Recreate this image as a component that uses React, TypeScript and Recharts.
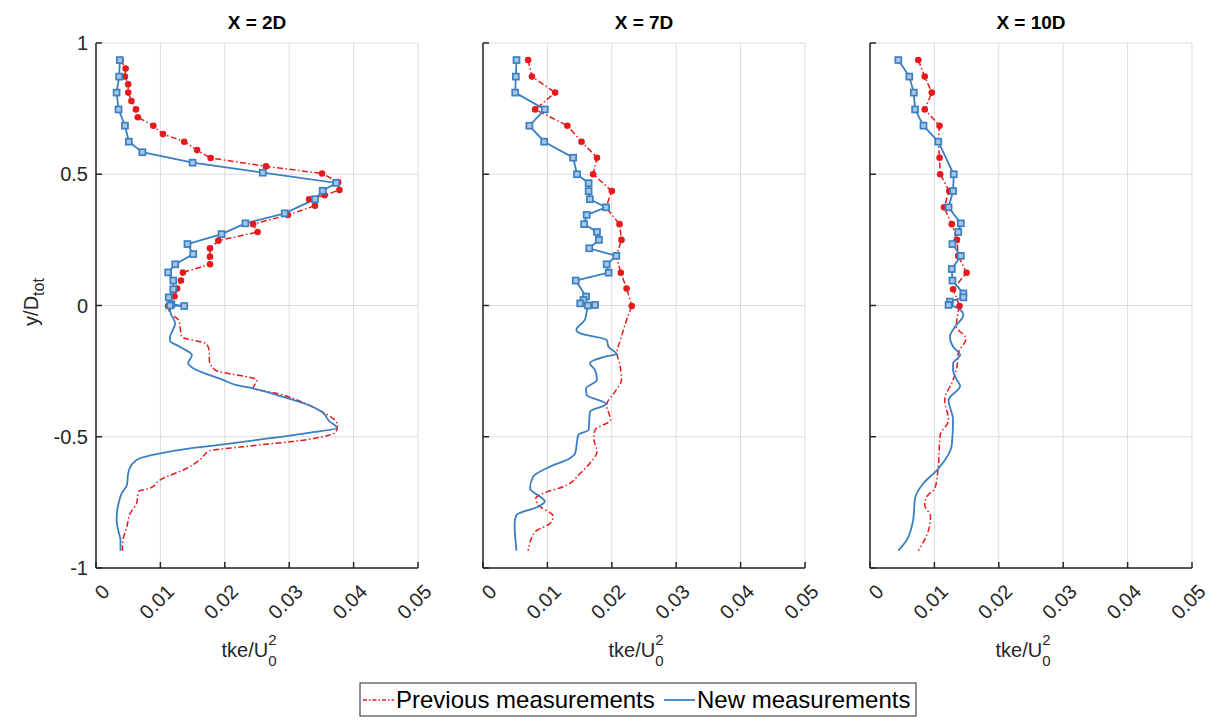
import React from 'react';
import { ScatterChart, Scatter, XAxis, YAxis, CartesianGrid } from 'recharts';

const RED = '#e8191c';
const BLUE = '#3a7fc1';
const AXIS = '#262626';
const GRID = '#dcdcdc';
const FONT = '"Liberation Sans", Arial, Helvetica, sans-serif';

const xTicks = [0, 0.01, 0.02, 0.03, 0.04, 0.05];
const yTicks = [-1, -0.5, 0, 0.5, 1];
const panelTitles = ['X = 2D', 'X = 7D', 'X = 10D'];
const legendLabels = ['Previous measurements', 'New measurements'];

// ---------- X = 2D ----------
const prev2DPts: [number, number][] = [
  [0.0038, 0.935], [0.0046, 0.903], [0.0045, 0.872], [0.005, 0.843], [0.005, 0.811], [0.0055, 0.779],
  [0.0062, 0.747], [0.0065, 0.717], [0.0089, 0.685], [0.0104, 0.653], [0.0137, 0.624], [0.0157, 0.592],
  [0.0178, 0.562], [0.0264, 0.53], [0.0351, 0.503], [0.0376, 0.47], [0.0378, 0.44], [0.0355, 0.42],
  [0.0331, 0.405], [0.034, 0.38], [0.0298, 0.345], [0.0244, 0.31], [0.0251, 0.28], [0.019, 0.247],
  [0.0177, 0.218], [0.0177, 0.186], [0.0177, 0.157], [0.0135, 0.126], [0.0132, 0.095], [0.0126, 0.065],
  [0.0122, 0.035], [0.0112, -0.002],
];
const prev2DLine: [number, number][] = [
  [0.0112, -0.002], [0.0115, -0.03], [0.0128, -0.055], [0.0131, -0.09], [0.0133, -0.119], [0.0172, -0.147],
  [0.0176, -0.18], [0.0176, -0.208], [0.0185, -0.246], [0.025, -0.284], [0.0244, -0.315], [0.0281, -0.335],
  [0.033, -0.379], [0.0355, -0.41], [0.0368, -0.43], [0.0375, -0.455], [0.0373, -0.48], [0.033, -0.51],
  [0.0229, -0.538], [0.0177, -0.553], [0.0161, -0.589], [0.0141, -0.62], [0.0099, -0.665], [0.0084, -0.696],
  [0.0066, -0.709], [0.0063, -0.754], [0.0053, -0.792], [0.0048, -0.843], [0.0042, -0.893], [0.0041, -0.934],
];
const new2DPts: [number, number][] = [
  [0.0037, 0.935], [0.0036, 0.872], [0.0032, 0.811], [0.0035, 0.747], [0.0045, 0.685], [0.0051, 0.624],
  [0.0072, 0.584], [0.015, 0.544], [0.0259, 0.506], [0.0373, 0.467], [0.0352, 0.437], [0.034, 0.405],
  [0.0293, 0.351], [0.0232, 0.313], [0.0195, 0.272], [0.0142, 0.234], [0.0151, 0.196], [0.0123, 0.157],
  [0.0112, 0.126], [0.012, 0.095], [0.012, 0.062], [0.0113, 0.031], [0.0117, 0.005], [0.0137, -0.002],
  [0.0115, 0.0],
];
const new2DLine: [number, number][] = [
  [0.0115, 0.0], [0.0115, -0.017], [0.0117, -0.036], [0.0123, -0.068], [0.0118, -0.1], [0.0115, -0.119],
  [0.0115, -0.134], [0.013, -0.157], [0.0149, -0.189], [0.0143, -0.22], [0.0151, -0.239], [0.0198, -0.284],
  [0.0218, -0.303], [0.0244, -0.316], [0.0281, -0.341], [0.033, -0.379], [0.0351, -0.406], [0.0362, -0.44],
  [0.0374, -0.467], [0.033, -0.485], [0.025, -0.512], [0.0198, -0.529], [0.0146, -0.544], [0.0094, -0.566],
  [0.0068, -0.582], [0.0055, -0.608], [0.005, -0.639], [0.0048, -0.684], [0.004, -0.715], [0.0035, -0.754],
  [0.0032, -0.817], [0.0035, -0.862], [0.0038, -0.893], [0.0038, -0.934],
];

// ---------- X = 7D ----------
const prev7DPts: [number, number][] = [
  [0.007, 0.935], [0.0076, 0.872], [0.0112, 0.811], [0.0081, 0.747], [0.0131, 0.685], [0.0153, 0.624],
  [0.0177, 0.563], [0.0171, 0.5], [0.02, 0.436], [0.0191, 0.374], [0.0212, 0.31], [0.0215, 0.25],
  [0.0207, 0.189], [0.0214, 0.125], [0.0223, 0.065], [0.0231, -0.002],
];
const prev7DLine: [number, number][] = [
  [0.0231, -0.002], [0.0223, -0.055], [0.0215, -0.119], [0.0208, -0.182], [0.0212, -0.22], [0.0215, -0.284],
  [0.0205, -0.328], [0.0192, -0.379], [0.0198, -0.436], [0.0174, -0.474], [0.0172, -0.506], [0.0177, -0.557],
  [0.0166, -0.601], [0.0151, -0.639], [0.0125, -0.69], [0.0094, -0.715], [0.0082, -0.734], [0.0086, -0.76],
  [0.0109, -0.804], [0.0104, -0.83], [0.0081, -0.862], [0.007, -0.934],
];
const new7DPts: [number, number][] = [
  [0.0052, 0.935], [0.0051, 0.872], [0.005, 0.811], [0.0096, 0.747], [0.0072, 0.685], [0.0095, 0.624],
  [0.014, 0.563], [0.0146, 0.5], [0.0164, 0.466], [0.0164, 0.436], [0.0166, 0.405], [0.0191, 0.374],
  [0.0161, 0.345], [0.0157, 0.31], [0.0177, 0.28], [0.018, 0.25], [0.0165, 0.218], [0.0207, 0.189],
  [0.0192, 0.157], [0.0195, 0.125], [0.0144, 0.095], [0.016, 0.034], [0.0156, 0.021], [0.0151, 0.008],
  [0.0174, 0.002], [0.0163, 0.0],
];
const new7DLine: [number, number][] = [
  [0.0163, 0.0], [0.0161, -0.024], [0.0158, -0.055], [0.0145, -0.093], [0.0151, -0.106], [0.0192, -0.131],
  [0.0195, -0.157], [0.0207, -0.185], [0.019, -0.195], [0.0166, -0.22], [0.0174, -0.246], [0.0177, -0.284],
  [0.016, -0.316], [0.0161, -0.341], [0.0191, -0.375], [0.0166, -0.405], [0.0164, -0.474], [0.0148, -0.493],
  [0.0143, -0.563], [0.0135, -0.582], [0.0104, -0.614], [0.0078, -0.652], [0.0073, -0.696], [0.0096, -0.747],
  [0.0086, -0.766], [0.0052, -0.798], [0.0049, -0.83], [0.005, -0.881], [0.0052, -0.934],
];

// ---------- X = 10D ----------
const prev10DPts: [number, number][] = [
  [0.0075, 0.935], [0.0085, 0.872], [0.0096, 0.811], [0.0085, 0.747], [0.0108, 0.685], [0.0106, 0.624],
  [0.0108, 0.563], [0.0109, 0.5], [0.0123, 0.436], [0.0115, 0.374], [0.0127, 0.31], [0.0135, 0.25],
  [0.0137, 0.189], [0.015, 0.125], [0.0129, 0.062], [0.0139, -0.002],
];
const prev10DLine: [number, number][] = [
  [0.0139, -0.002], [0.0136, -0.036], [0.0134, -0.081], [0.0149, -0.125], [0.0137, -0.182], [0.0135, -0.233],
  [0.0129, -0.284], [0.0116, -0.36], [0.0122, -0.436], [0.0109, -0.493], [0.0106, -0.614], [0.0101, -0.696],
  [0.0088, -0.728], [0.0085, -0.76], [0.0094, -0.804], [0.0091, -0.855], [0.0075, -0.934],
];
const new10DPts: [number, number][] = [
  [0.0044, 0.935], [0.0061, 0.872], [0.0068, 0.811], [0.007, 0.747], [0.0083, 0.685], [0.0106, 0.624],
  [0.013, 0.5], [0.0129, 0.436], [0.0122, 0.374], [0.0141, 0.313], [0.0137, 0.28], [0.0128, 0.234],
  [0.0141, 0.189], [0.0127, 0.139], [0.0128, 0.095], [0.0145, 0.046], [0.0145, 0.031], [0.0124, 0.015],
  [0.0122, 0.002],
];
const new10DLine: [number, number][] = [
  [0.0122, 0.002], [0.0137, -0.011], [0.0145, -0.036], [0.0132, -0.081], [0.0124, -0.119], [0.0129, -0.157],
  [0.014, -0.189], [0.0129, -0.22], [0.0129, -0.246], [0.0135, -0.284], [0.014, -0.307], [0.0122, -0.36],
  [0.0129, -0.436], [0.0127, -0.531], [0.0104, -0.627], [0.0083, -0.677], [0.007, -0.734], [0.0067, -0.817],
  [0.0057, -0.893], [0.0044, -0.934],
];

type Pair = [number, number];
const toObj = (arr: Pair[]) => arr.map(([t, y]) => ({ t, y }));

const PLOT_W = 322;
const PLOT_TOP = 43;
const PLOT_BOTTOM = 568;
const YAX_W = 60;
const panelLefts = [96, 483, 870];
const FRAME_W = 1.5;

const fmt = (v: number) => String(v);

const XTick = (props: any) => {
  const { x, y, payload } = props;
  const ax = x + 10;
  const ay = y + 20;
  return (
    <g>
      <line x1={x} x2={x} y1={y} y2={y - 6} stroke={AXIS} strokeWidth={FRAME_W} />
      <text
        x={ax}
        y={ay}
        textAnchor="end"
        dominantBaseline="central"
        transform={`rotate(-45, ${ax}, ${ay})`}
        fontSize={20}
        fontFamily={FONT}
        fill={AXIS}
      >
        {fmt(payload.value)}
      </text>
    </g>
  );
};

const TopTick = (props: any) => {
  const { x, y } = props;
  return <line x1={x} x2={x} y1={y} y2={y + 6} stroke={AXIS} strokeWidth={FRAME_W} />;
};

const makeYTick = (showLabel: boolean) => (props: any) => {
  const { x, y, payload } = props;
  return (
    <g>
      <line x1={x} x2={x + 6} y1={y} y2={y} stroke={AXIS} strokeWidth={FRAME_W} />
      {showLabel && (
        <text x={x - 8} y={y} textAnchor="end" dominantBaseline="central" fontSize={20} fontFamily={FONT} fill={AXIS}>
          {fmt(payload.value)}
        </text>
      )}
    </g>
  );
};

const RightTick = (props: any) => {
  const { x, y } = props;
  return <line x1={x} x2={x - 6} y1={y} y2={y} stroke={AXIS} strokeWidth={FRAME_W} />;
};

const Dot = (props: any) => {
  const { cx, cy } = props;
  return <circle cx={cx} cy={cy} r={3.3} fill={RED} />;
};

const Square = (props: any) => {
  const { cx, cy } = props;
  return <rect x={cx - 3} y={cy - 3} width={6} height={6} fill="#a7c6e6" stroke={BLUE} strokeWidth={1.7} />;
};

const Empty = () => <g />;

type PanelProps = {
  left: number;
  prevPts: Pair[];
  prevLine: Pair[];
  newPts: Pair[];
  newLine: Pair[];
  showYLabels: boolean;
};

const RED_DASH = '6 2.5 1.5 2.5';

function Panel({ left, prevPts, prevLine, newPts, newLine, showYLabels }: PanelProps) {
  return (
    <div style={{ position: 'absolute', left: left - YAX_W, top: 0 }}>
      <ScatterChart
        width={PLOT_W + YAX_W + 20}
        height={720}
        margin={{ top: PLOT_TOP, right: 20, bottom: 0, left: 0 }}
      >
        <CartesianGrid stroke={GRID} strokeWidth={1} />
        <XAxis
          type="number"
          dataKey="t"
          domain={[0, 0.05]}
          ticks={xTicks}
          interval={0}
          allowDataOverflow
          height={720 - PLOT_BOTTOM}
          tickSize={0}
          tickMargin={0}
          tickLine={false}
          axisLine={{ stroke: AXIS, strokeWidth: FRAME_W }}
          tick={XTick}
        />
        <XAxis
          xAxisId="top"
          orientation="top"
          type="number"
          domain={[0, 0.05]}
          ticks={xTicks}
          interval={0}
          height={0}
          tickSize={0}
          tickMargin={0}
          tickLine={false}
          axisLine={{ stroke: AXIS, strokeWidth: FRAME_W }}
          tick={TopTick}
        />
        <YAxis
          type="number"
          dataKey="y"
          domain={[-1, 1]}
          ticks={yTicks}
          interval={0}
          allowDataOverflow
          width={YAX_W}
          tickSize={0}
          tickMargin={0}
          tickLine={false}
          axisLine={{ stroke: AXIS, strokeWidth: FRAME_W }}
          tick={makeYTick(showYLabels)}
        />
        <YAxis
          yAxisId="right"
          orientation="right"
          type="number"
          domain={[-1, 1]}
          ticks={yTicks}
          interval={0}
          width={0}
          tickSize={0}
          tickMargin={0}
          tickLine={false}
          axisLine={{ stroke: AXIS, strokeWidth: FRAME_W }}
          tick={RightTick}
        />
        <Scatter
          data={toObj(prevPts)}
          line={{ stroke: RED, strokeWidth: 1.5, strokeDasharray: RED_DASH }}
          lineType="joint"
          shape={Empty}
          isAnimationActive={false}
        />
        <Scatter
          data={toObj(prevLine)}
          line={{ stroke: RED, strokeWidth: 1.5, strokeDasharray: RED_DASH }}
          lineType="joint"
          lineJointType="monotoneY"
          shape={Empty}
          isAnimationActive={false}
        />
        <Scatter
          data={toObj(newPts)}
          line={{ stroke: BLUE, strokeWidth: 1.8 }}
          lineType="joint"
          shape={Empty}
          isAnimationActive={false}
        />
        <Scatter
          data={toObj(newLine)}
          line={{ stroke: BLUE, strokeWidth: 1.8 }}
          lineType="joint"
          lineJointType="monotoneY"
          shape={Empty}
          isAnimationActive={false}
        />
        <Scatter data={toObj(prevPts)} shape={Dot} isAnimationActive={false} />
        <Scatter data={toObj(newPts)} shape={Square} isAnimationActive={false} />
      </ScatterChart>
    </div>
  );
}

export default function App() {
  const panels = [
    { prevPts: prev2DPts, prevLine: prev2DLine, newPts: new2DPts, newLine: new2DLine },
    { prevPts: prev7DPts, prevLine: prev7DLine, newPts: new7DPts, newLine: new7DLine },
    { prevPts: prev10DPts, prevLine: prev10DLine, newPts: new10DPts, newLine: new10DLine },
  ];
  return (
    <div style={{ position: 'absolute', left: 0, top: 0, width: 1214, height: 720, background: '#fff', fontFamily: FONT }}>
      {panels.map((p, i) => (
        <Panel key={i} left={panelLefts[i]} showYLabels={i === 0} {...p} />
      ))}
      <svg width={1214} height={720} style={{ position: 'absolute', left: 0, top: 0, pointerEvents: 'none' }}>
        {panelTitles.map((t, i) => (
          <text
            key={t}
            x={panelLefts[i] + PLOT_W / 2}
            y={29}
            textAnchor="middle"
            fontSize={19}
            fontWeight="bold"
            fontFamily={FONT}
            fill="#000"
          >
            {t}
          </text>
        ))}
        {panelLefts.map((l, i) => (
          <text key={i} x={l + PLOT_W / 2 - 8} y={657} textAnchor="middle" fontSize={20} fontFamily={FONT} fill={AXIS}>
            tke/U
            <tspan fontSize={15} dy={-12}>2</tspan>
            <tspan fontSize={15} dx={-8.3} dy={21}>0</tspan>
          </text>
        ))}
        <text
          x={0}
          y={0}
          transform="translate(38, 302) rotate(-90)"
          textAnchor="middle"
          fontSize={20}
          fontFamily={FONT}
          fill={AXIS}
        >
          y/D<tspan fontSize={16} dy={6}>tot</tspan>
        </text>
        <g>
          <rect x={360} y={683} width={556} height={33} fill="#fff" stroke={AXIS} strokeWidth={1} />
          <line x1={363} x2={394} y1={700} y2={700} stroke={RED} strokeWidth={1.5} strokeDasharray="4 2 1.5 2" />
          <text x={396} y={708} fontSize={24} fontFamily={FONT} fill="#000">{legendLabels[0]}</text>
          <line x1={664} x2={695} y1={700} y2={700} stroke={BLUE} strokeWidth={1.8} />
          <text x={697} y={708} fontSize={24} fontFamily={FONT} fill="#000">{legendLabels[1]}</text>
        </g>
      </svg>
    </div>
  );
}
